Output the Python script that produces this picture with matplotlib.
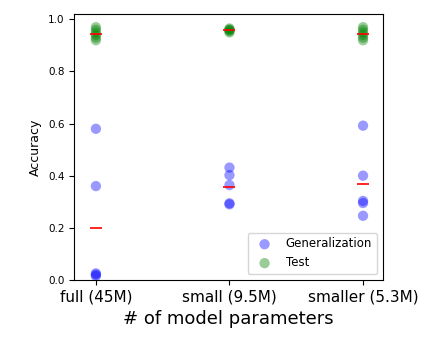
import matplotlib
matplotlib.use("Agg")
import matplotlib.pyplot as plt
import numpy as np

labels = ["full (45M)", "small (9.5M)", "smaller (5.3M)"]

gen_full = [0.58, 0.36, 0.025, 0.02, 0.015]
gen_small = [0.431, 0.402, 0.364, 0.294, 0.29]
gen_smaller = [0.592, 0.40, 0.303, 0.295, 0.246]

test_full = [0.97, 0.96, 0.95, 0.94, 0.93, 0.92]
test_small = [0.965, 0.96, 0.96, 0.955, 0.95]
test_smaller = [0.97, 0.96, 0.95, 0.94, 0.93, 0.92]

gen = [gen_full, gen_small, gen_smaller]
test = [test_full, test_small, test_smaller]

fig = plt.figure(figsize=(4.36, 3.63), dpi=100)
ax = fig.add_axes([0.17, 0.229, 0.708, 0.732])

for i in range(3):
    ax.scatter([i] * len(gen[i]), gen[i], color="b", alpha=0.4, s=55,
               edgecolors="none", label="Generalization" if i == 0 else None)
    ax.scatter([i] * len(test[i]), test[i], color="g", alpha=0.4, s=55,
               edgecolors="none", label="Test" if i == 0 else None)
    ax.plot([i], [np.mean(gen[i])], marker="_", color="r", markersize=9, mew=1.2)
    ax.plot([i], [np.mean(test[i])], marker="_", color="r", markersize=9, mew=1.2)

ax.set_xlim(-0.163, 2.148)
ax.set_ylim(0, 1.02)
ax.set_xticks([0, 1, 2])
ax.set_xticklabels(labels, fontsize=11)
ax.set_yticks([0, 0.2, 0.4, 0.6, 0.8, 1.0])
ax.set_yticklabels(["0.0", "0.2", "0.4", "0.6", "0.8", "1.0"], fontsize=7.5)
ax.set_ylabel("Accuracy", fontsize=9)
ax.set_xlabel("# of model parameters", fontsize=13, labelpad=4)
ax.legend(loc="lower right", fontsize=8.5)

fig.savefig("out.png", dpi=100)
